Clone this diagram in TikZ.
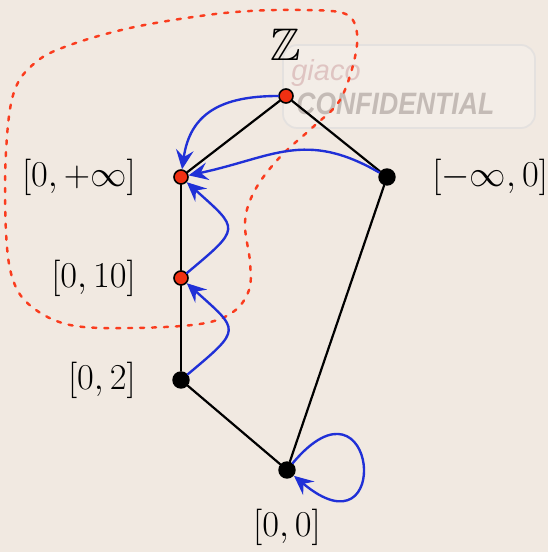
\documentclass[tikz,border=0pt]{standalone}
\usepackage{amsmath,amssymb}
\usepackage{fontspec}
\newfontfamily\wmfont{Liberation Sans}
\usetikzlibrary{arrows.meta}

\definecolor{paper}{RGB}{241,233,225}
\definecolor{ptred}{RGB}{240,48,18}
\definecolor{loopred}{RGB}{250,60,30}
\definecolor{arrblue}{RGB}{32,48,215}
\definecolor{wmgray}{RGB}{165,155,150}
\definecolor{wmpink}{RGB}{210,170,170}

\tikzset{
    vtx/.style={circle,fill=black,inner sep=0pt,minimum size=0.35cm},
    redvtx/.style={circle,draw=black,fill=ptred,line width=0.9pt,
        inner sep=0pt,minimum size=0.28cm},
    lab/.style={inner sep=0pt,font=\huge},
    order/.style={line width=1.25pt},
    arr/.style={arrblue,line width=1.35pt,
        -{Stealth[length=11pt,width=10pt,inset=4pt]}},
    blob/.style={loopred,line width=1.4pt,dash pattern=on 2.3pt off 4.5pt}
}

\begin{document}
\begin{tikzpicture}[line cap=round,line join=round,
    x=0.02cm,y=0.02cm]
\fill[paper] (0,0) rectangle (548,552);
\useasboundingbox (0,0) rectangle (548,552);

% watermark
\draw[wmgray!30,line width=1pt,rounded corners=8,fill=white,fill opacity=0.2]
    (283,424) rectangle (535,507);
\node[anchor=west,inner sep=0pt,text=wmpink,text opacity=0.6] (wmgiaco) at (291,479)
    {\wmfont\itshape\fontsize{16.5}{18}\selectfont giaco};
\node[anchor=west,inner sep=0pt,text=wmgray,text opacity=0.6] (wmconf) at (296,448)
    {\scalebox{0.86}[1]{\wmfont\bfseries\itshape\fontsize{17.6}{20}\selectfont CONFIDENTIAL}};

% vertices
\node[redvtx] (top) at (286,456) {};
\node[redvtx] (pinf) at (181,375) {};
\node[vtx] (minf) at (387,375) {};
\node[redvtx] (ten) at (181,274) {};
\node[vtx] (two) at (181,172) {};
\node[vtx] (zero) at (287,82) {};

% the dotted region
\draw[blob] plot[smooth cycle,tension=0.6] coordinates {
    (300,542) (343,539) (356,524) (355,495) (340,452) (313,425)
    (280,395) (255,362) (245,330) (250,290) (249,262) (233,240)
    (200,228) (130,224) (70,227) (32,245) (13,272) (6,320)
    (6,400) (14,460) (36,490) (70,507) (130,524) (200,536) (250,541)
};

% order
\draw[order] (top)--(pinf);
\draw[order] (top)--(minf);
\draw[order] (pinf)--(ten);
\draw[order] (ten)--(two);
\draw[order] (two)--(zero);
\draw[order] (zero)--(minf);

% maps
\draw[arr] (top) to[out=180,in=82,looseness=1.2] (pinf);
\draw[arr] (minf) to[out=150,in=12,looseness=1.15] (pinf);
\draw[arr] (ten) to[out=40,in=-42,looseness=2] (pinf);
\draw[arr] (two) to[out=40,in=-42,looseness=2] (ten);
\draw[arr] (zero) .. controls +(50:140) and +(-40:140) .. (zero);

% labels
\node[lab] (ztxt) at (286,507) {\fontsize{26}{30}\selectfont$\mathbb{Z}$};
\node[lab,anchor=east] (pinftxt) at (136,375) {$[0,+\infty]$};
\node[lab,anchor=west] (minftxt) at (432,375) {$[-\infty,0]$};
\node[lab,anchor=east] (tentxt) at (136,274) {$[0,10]$};
\node[lab,anchor=east] (twotxt) at (136,172) {$[0,2]$};
\node[lab] (zerotxt) at (287,25) {$[0,0]$};
\end{tikzpicture}
\end{document}
